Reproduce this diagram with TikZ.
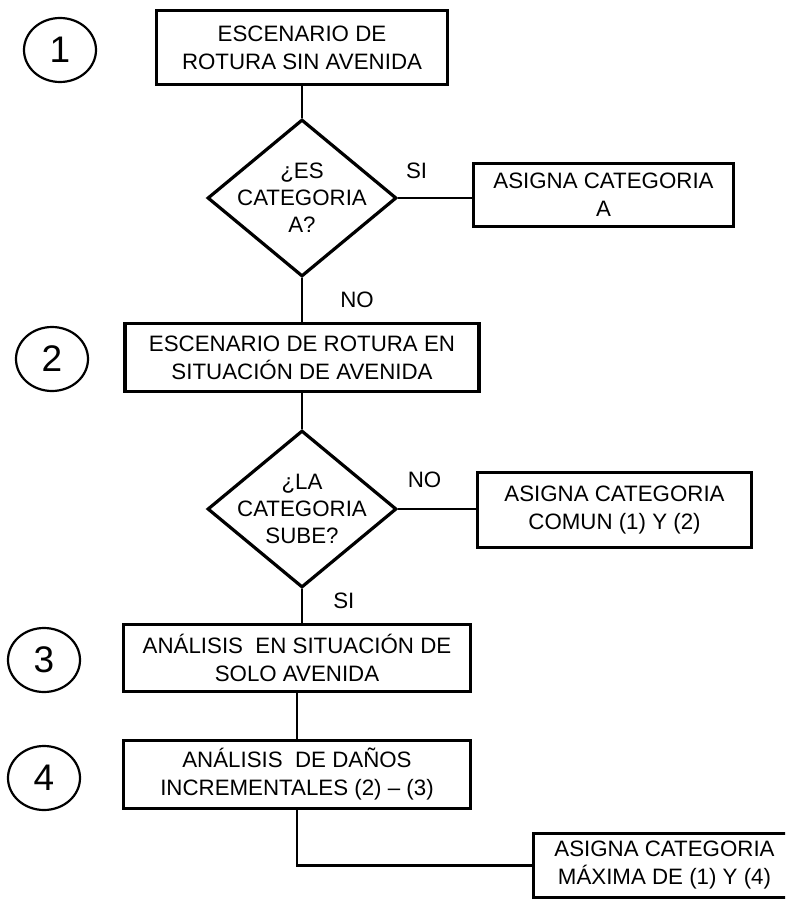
\documentclass[tikz,border=0pt]{standalone}
\usepackage{fontspec}
\setmainfont{Liberation Sans}
\usetikzlibrary{shapes.geometric}
\usetikzlibrary{positioning}
\tikzstyle{step_box} = [
    rectangle,
    draw=black,
    line width=3.2pt,
    align=center,
    inner sep=0pt,
    font=\fontsize{22.3}{28}\selectfont
]
\tikzstyle{decision} = [
    diamond,
    draw=black,
    line width=3.2pt,
    inner sep=0pt,
    minimum width=189pt,
    minimum height=157pt
]
\tikzstyle{num_circle} = [
    ellipse,
    draw=black,
    line width=2.2pt,
    inner sep=0pt,
    minimum width=72pt, % a little wider than tall
    minimum height=64pt,
    font=\fontsize{37}{37}\selectfont
]
\tikzstyle{answer} = [
    inner sep=0pt,
    align=center,
    font=\fontsize{22.3}{27}\selectfont
]
\tikzstyle{link} = [
    draw=black,
    line width=2.6pt
]

\begin{document}
\begin{tikzpicture}[x=1pt, y=-1pt]
\clip (0,0) rectangle (785,901);
\useasboundingbox (0,0) rectangle (785,901);
% numbered stages
\node [num_circle] (n1) at (60,50) {1};
\node [num_circle] (n2) at (52,359) {2};
\node [num_circle] (n3) at (44,660) {3};
\node [num_circle] (n4) at (44,778) {4};
% main column
\node [step_box, minimum width=291pt, minimum height=74pt] (esc1) at (302,47.5)
    {ESCENARIO DE\\ROTURA SIN AVENIDA};
\node [decision, label={[answer]center:{¿ES\\CATEGORIA\\A?}}] (dia1) at (302,198) {};
\node [step_box, minimum width=260pt, minimum height=63pt] (asigA) at (603.5,195)
    {ASIGNA CATEGORIA\\A};
\node [step_box, minimum width=354pt, minimum height=68pt] (esc2) at (302,357.5)
    {ESCENARIO DE ROTURA EN\\SITUACIÓN DE AVENIDA};
\node [decision, label={[answer]center:{¿LA\\CATEGORIA\\SUBE?}}] (dia2) at (302,509) {};
\node [step_box, minimum width=274pt, minimum height=75pt] (asigC) at (614.5,510)
    {ASIGNA CATEGORIA\\COMUN (1) Y (2)};
\node [step_box, minimum width=347pt, minimum height=67pt] (anal3) at (297,658)
    {ANÁLISIS~ EN SITUACIÓN DE\\SOLO AVENIDA};
\node [step_box, minimum width=347pt, minimum height=68pt] (anal4) at (297,774.5)
    {ANÁLISIS~ DE DAÑOS\\INCREMENTALES (2) – (3)};
\node [step_box, minimum width=262pt, minimum height=64pt] (asigM) at (664.5,865.5)
    {ASIGNA CATEGORIA\\MÁXIMA DE (1) Y (4)};
% connectors
\draw [link] (esc1) -- (dia1);
\draw [link] (dia1.east) -- node [answer, pos=0.25, above=18pt] {SI} (dia1.east -| asigA.west);
\draw [link] (dia1) -- node [answer, right=37pt] {NO} (esc2);
\draw [link] (esc2) -- (dia2);
\draw [link] (dia2.east) -- node [answer, pos=0.34, above=20pt] {NO} (dia2.east -| asigC.west);
\draw [link] (dia2.south) -- node [answer, pos=0.36, right=30pt] {SI} (dia2.south |- anal3.north);
\draw [link] (anal3) -- (anal4);
\draw [link] (anal4.south) |- (asigM.west);
\end{tikzpicture}
\end{document}
